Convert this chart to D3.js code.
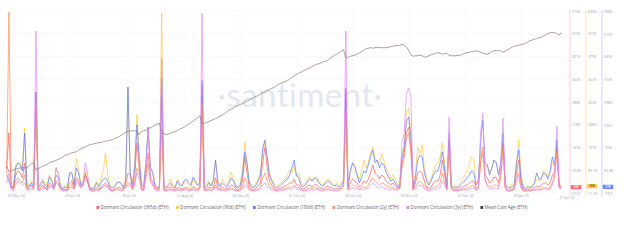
<!DOCTYPE html>
<html><head><meta charset="utf-8">
<script src="https://cdn.jsdelivr.net/npm/d3@7"></script>
<style>html,body{margin:0;padding:0;background:#fff;overflow:hidden}svg{display:block;font-family:'Open Sans',Lato,sans-serif}</style>
</head><body><svg id="c" width="624" height="243"></svg>
<script>
// ---- data (thousands of ETH; Mean Coin Age in days) ----
const startDate = "2024-05-25";
const dormant365 = [84,193,21,18,62,74,68,53,99,21, 24,31,21,321,15,21,31,24,18,37, 31,21,43,37,21,15,18,15,37,43, 21,53,43,24,31,68,43,18,15,15,
 24,18,24,31,37,31,18,15,18,21, 24,21,18,31,68,62,21,53,162,84, 21,18,68,130,53,43,24,18,21,305, 18,15,21,24,18,15,24,21,18,21,
 24,18,18,24,21,18,24,342,15,18, 24,21,24,53,24,18,24,21,18,24, 31,28,18,15,21,43,118,68,24,18, 15,21,28,37,99,149,84,43,31,21,
 15,18,21,24,28,31,37,37,49,31, 31,21,18,21,28,31,24,31,31,24, 21,18,24,28,24,21,18,21,18,24, 31,317,18,37,49,43,37,24,31,43,
 37,49,68,93,68,62,49,62,56,43, 37,31,37,28,21,21,99,130,193,211, 146,15,37,68,74,68,43,24,21,24, 37,43,43,62,109,62,18,171,21,15,
 18,15,21,24,28,31,37,43,43,21, 24,99,149,62,53,37,43,56,53,37, 68,162,24,15,15,18,21,68,109,37, 15,15,18,15,18,21,28,24,28,37,
 37,31,37,62,68,149,24,24];
const dormant90 = [80,63,32,38,107,114,114,97,234,45, 38,52,38,268,32,45,59,45,38,73, 59,38,100,80,38,28,38,32,73,80, 38,131,97,45,45,87,63,32,28,32,
 52,38,59,87,148,73,38,32,38,45, 52,45,32,59,371,80,45,114,279,148, 45,38,114,224,97,87,45,32,38,628, 38,32,45,59,38,32,59,45,38,45,
 52,38,32,59,45,38,52,217,32,38, 52,38,59,124,52,38,59,45,38,52, 83,59,38,32,45,87,186,114,52,38, 32,45,59,80,148,186,135,80,59,45,
 32,38,45,52,59,73,90,80,107,66, 80,45,38,45,59,66,52,59,66,52, 45,38,52,59,52,45,38,45,38,45, 59,217,38,80,114,107,80,56,87,124,
 97,114,148,169,131,114,114,148,121,97, 80,59,73,59,38,38,148,169,286,303, 217,28,80,169,148,176,97,59,45,59, 87,107,114,135,183,114,38,148,38,32,
 38,32,45,59,73,87,107,135,128,45, 59,148,166,97,111,80,97,124,114,80, 97,148,45,32,32,38,45,114,193,80, 32,28,38,32,38,45,59,52,66,87,
 83,66,80,117,97,148,45,35];
const dormant180 = [65,46,24,27,88,104,97,78,199,33, 27,40,27,330,24,33,46,33,27,59, 46,27,65,56,27,21,27,24,72,72, 33,88,72,33,33,65,46,24,21,24,
 40,27,40,52,56,46,27,24,27,40, 43,37,24,46,346,72,33,88,225,119, 33,27,104,218,88,72,33,24,27,375, 27,24,33,40,27,24,46,33,30,46,
 52,40,33,59,46,33,40,368,24,27, 40,30,46,113,40,27,40,33,27,40, 56,46,27,24,33,65,139,104,40,27, 24,33,46,65,151,177,123,65,46,33,
 24,27,33,40,46,52,65,88,113,65, 56,33,27,33,46,52,46,56,52,40, 33,30,40,46,40,33,30,33,27,33, 46,343,27,78,104,91,65,40,56,78,
 72,97,123,145,104,113,88,104,97,72, 59,46,52,40,27,27,119,155,237,250, 183,21,56,113,129,123,72,46,33,46, 65,78,78,104,139,88,27,199,27,24,
 27,24,33,40,46,56,65,78,72,33, 46,167,241,104,97,65,88,113,104,65, 104,199,33,24,24,27,33,104,145,56, 24,21,27,24,27,40,72,52,52,72,
 68,52,78,123,97,177,33,27];
const dormant2y = [74,638,32,22,46,57,46,39,67,18, 18,25,18,319,14,18,25,22,14,29, 25,18,39,32,18,11,14,14,25,32, 18,39,32,22,32,67,39,14,11,11,
 18,14,22,25,32,25,14,11,14,18, 18,14,14,25,39,39,18,39,92,74, 18,14,57,109,39,32,18,14,18,214, 14,11,14,18,14,11,18,14,14,18,
 18,14,14,18,14,14,18,319,14,14, 18,14,18,32,18,14,18,14,14,18, 22,18,14,11,14,25,57,39,18,14, 11,14,18,25,57,74,46,25,22,18,
 11,14,14,18,18,22,25,25,32,22, 22,14,14,14,18,22,18,22,22,18, 14,14,18,18,18,14,14,14,14,18, 25,284,14,25,32,29,25,18,22,25,
 22,32,46,57,46,39,32,39,36,29, 25,22,25,18,18,18,92,127,197,214, 144,14,25,39,46,39,25,18,14,18, 25,25,29,39,74,39,14,162,18,11,
 14,11,14,18,18,22,25,29,29,14, 18,109,144,46,32,25,25,32,32,25, 57,162,22,11,11,14,18,46,74,25, 11,11,14,11,14,14,18,18,18,22,
 22,18,25,39,57,144,22,18];
const dormant3y = [32,62,11,8,26,38,32,26,32,11, 11,14,11,488,8,11,14,17,11,17, 26,11,77,56,11,8,11,8,17,20, 11,38,32,17,38,92,62,11,8,8,
 11,8,14,20,26,17,11,8,11,11, 11,8,11,17,26,26,11,26,62,47, 11,8,77,200,47,26,11,8,11,407, 8,8,11,11,8,8,11,11,8,11,
 11,8,8,11,11,8,17,542,11,8, 11,8,11,20,11,8,11,8,8,11, 14,11,8,8,8,14,26,20,11,8, 8,11,11,14,26,32,20,14,11,11,
 8,8,11,11,11,14,14,14,20,14, 14,11,8,8,11,11,11,11,14,11, 8,8,11,11,11,8,8,8,8,14, 26,488,11,14,17,17,14,11,11,14,
 14,17,26,32,26,20,17,20,17,14, 14,11,14,11,11,32,152,182,302,317, 290,14,14,20,26,23,14,11,8,11, 14,14,14,20,38,26,11,230,17,8,
 8,8,11,11,11,11,14,17,17,11, 14,182,242,47,20,14,14,17,17,14, 92,227,20,8,8,8,17,56,47,17, 8,8,8,8,8,11,11,11,11,14,
 14,11,14,26,77,203,17,14];
const meanCoinAge = [254,242,244,246,247,249,250,250,250,250, 254,258,260,246,248,251,253,255,257,260, 262,263,265,267,269,272,275,276,278,280,
 281,282,285,288,290,292,294,296,297,298, 299,300,300,302,303,304,305,306,308,310, 312,315,318,321,322,323,324,324,323,316,
 322,324,325,328,330,332,335,337,339,320, 318,316,317,319,321,322,324,327,329,331, 334,337,340,343,346,350,353,338,339,340,
 342,344,346,348,350,353,355,358,361,365, 367,369,372,374,376,378,380,383,385,387, 390,392,394,397,399,402,404,406,408,410,
 413,416,418,420,422,423,427,430,433,436, 438,440,443,445,447,449,452,454,456,457, 459,461,462,464,468,471,474,476,479,482,
 485,469,470,472,473,474,476,479,481,484, 487,488,489,488,489,490,489,489,489,489, 490,491,492,493,493,494,496,494,490,484,
 475,472,473,473,474,473,470,471,473,475, 476,478,479,478,476,477,478,474,473,473, 473,474,474,476,478,479,480,481,481,483,
 482,480,478,477,476,478,481,483,483,483, 483,480,482,485,487,490,492,493,494,495, 496,498,500,503,504,506,507,509,510,512,
 515,517,519,519,519,517,514,519];

const seriesNames = ["Dormant Circulation (365d) (ETH)","Dormant Circulation (90d) (ETH)","Dormant Circulation (180d) (ETH)",
  "Dormant Circulation (2y) (ETH)","Dormant Circulation (3y) (ETH)","Mean Coin Age (ETH)"];
const dateTicks = ["2024-05-29","2024-06-23","2024-07-18","2024-08-12","2024-09-06","2024-10-01","2024-10-26","2024-11-20","2024-12-15","2025-01-09"];
const ticks365 = [5.723,76.6,147.5,218.4,289.4,360.3,431.2,502.1,573];
const labels365 = ["5723","76.6K","147K","218K","289K","360K","431K","502K","573K"];
const ticks90 = [11.1,89.1,167,245,323,401,479,557,635];
const labels90 = ["11.1K","89.1K","167K","245K","323K","401K","479K","557K","635K"];
const ticks180 = [7.763,80.3,153,225,298,370,443,515,588];
const labels180 = ["7763","80.3K","153K","225K","298K","370K","443K","515K","588K"];
const domain2y = [4, 641];
const domain3y = [2, 548];
const domainMCA = [200, 562];

// ---- layout ----
const svg = d3.select("#c");
const plotTop = 11, plotBottom = 193, xL = 6.7, xR = 561.4;
const parse = d3.utcParse("%Y-%m-%d");
const t0 = parse(startDate);
const dates = dormant365.map((_, i) => d3.utcDay.offset(t0, i));
const x = d3.scaleUtc().domain([dates[0], dates[dates.length - 1]]).range([xL, xR]);
const fmt = d3.utcFormat("%d %b %y");

const y365 = d3.scaleLinear().domain([ticks365[0], ticks365[8]]).range([plotBottom, plotTop]);
const y90 = d3.scaleLinear().domain([ticks90[0], ticks90[8]]).range([plotBottom, plotTop]);
const y180 = d3.scaleLinear().domain([ticks180[0], ticks180[8]]).range([plotBottom, plotTop]);
const y2y = d3.scaleLinear().domain(domain2y).range([plotBottom, plotTop]);
const y3y = d3.scaleLinear().domain(domain3y).range([plotBottom, plotTop]);
const yMCA = d3.scaleLinear().domain(domainMCA).range([plotBottom, plotTop]);

const colors = ["#ff5f5f", "#ffca45", "#5a7cff", "#ff8d5c", "#e58cf4", "#8f7a74"];

// grid
const g = svg.append("g");
g.selectAll(".hg").data(ticks365).join("line")
  .attr("x1", 4).attr("x2", 567).attr("y1", d => y365(d)).attr("y2", d => y365(d))
  .attr("stroke", "#e9ecf2").attr("stroke-width", 0.6).attr("stroke-dasharray", "2,2");
g.selectAll(".vg").data(dateTicks.map(parse)).join("line")
  .attr("x1", d => x(d)).attr("x2", d => x(d)).attr("y1", plotTop).attr("y2", plotBottom)
  .attr("stroke", "#eef0f5").attr("stroke-width", 0.6).attr("stroke-dasharray", "2,2");

// watermark
svg.append("text").attr("x", 300).attr("y", 107).attr("text-anchor", "middle")
  .attr("font-family", "Lato, 'Open Sans', sans-serif").attr("font-weight", 400)
  .attr("font-size", 33).attr("fill", "#e3e7f0").attr("letter-spacing", 0.4).text("·santiment·");

// lines
const series = [
  [dormant365, y365], [dormant90, y90], [dormant180, y180], [dormant2y, y2y], [dormant3y, y3y], [meanCoinAge, yMCA]
];
series.forEach(([vals, sc], i) => {
  const line = d3.line().x((d, j) => x(dates[j])).y(d => sc(d));
  svg.append("path").datum(vals).attr("d", line).attr("fill", "none")
    .attr("stroke", colors[i]).attr("stroke-width", 0.8)
    .attr("stroke-opacity", 0.9).attr("stroke-linejoin", "round");
});

// x axis
const xa = svg.append("g").attr("transform", `translate(0,${plotBottom})`)
  .call(d3.axisBottom(x).tickValues(dateTicks.map(parse)).tickFormat(fmt).tickSize(0).tickPadding(1.6));
xa.select(".domain").remove();
xa.selectAll("text").attr("font-size", 3.6).attr("fill", "#9aa3b8").attr("font-family", "'Open Sans',sans-serif");
svg.append("text").attr("x", 567).attr("y", 199).attr("text-anchor", "middle")
  .attr("font-size", 3.6).attr("fill", "#9aa3b8").text(fmt(dates[dates.length - 1]));

// right axes
const axes = [
  [y365, ticks365, labels365, 570, "#ffcaca", dormant365, "#ff6b6b", "#fff"],
  [y90, ticks90, labels90, 586, "#ffe7a6", dormant90, "#ffcd4a", "#5a4500"],
  [y180, ticks180, labels180, 602, "#c6cffc", dormant180, "#6686ff", "#fff"]
];
axes.forEach(([sc, tv, lb, ax, lc, vals, bc, tc]) => {
  svg.append("line").attr("x1", ax).attr("x2", ax).attr("y1", 10).attr("y2", 197)
    .attr("stroke", lc).attr("stroke-width", 0.9);
  const a = svg.append("g").attr("transform", `translate(${ax},0)`)
    .call(d3.axisRight(sc).tickValues(tv).tickFormat((d, i) => lb[i]).tickSize(0).tickPadding(2));
  a.select(".domain").remove();
  a.selectAll("text").attr("font-size", 3.6).attr("fill", "#9aa3b8").attr("font-family", "'Open Sans',sans-serif");
  const last = vals[vals.length - 1];
  const yy = sc(last);
  svg.append("rect").attr("x", ax + 0.8).attr("y", yy - 2.1).attr("width", 10.5).attr("height", 4.2)
    .attr("rx", 0.6).attr("fill", bc);
  svg.append("text").attr("x", ax + 6).attr("y", yy + 1.15).attr("text-anchor", "middle")
    .attr("font-size", 3.2).attr("fill", tc).attr("font-weight", 600).text(d3.format(".3~s")(last * 1000).replace("k", "K"));
});

// legend
const lg = svg.append("g");
const items = lg.selectAll("g").data(seriesNames).join("g");
items.append("rect").attr("width", 2.8).attr("height", 2.8).attr("y", -2.4).attr("rx", 0.4).attr("fill", (d, i) => i === 5 ? "#4e3d38" : colors[i]);
const texts = items.append("text").attr("x", 4.2).attr("y", 0.35).attr("font-size", 10).attr("fill", "#5d6270").text(d => d);
const gap = 7.5;
let widths = texts.nodes().map(n => n.getComputedTextLength());
const target = 432 - seriesNames.length * 4.2 - (seriesNames.length - 1) * gap;
const fs = 10 * target / d3.sum(widths);
texts.attr("font-size", fs);
widths = texts.nodes().map(n => n.getComputedTextLength());
let cx = 96.5;
items.each(function (d, i) {
  d3.select(this).attr("transform", `translate(${cx},208.5)`);
  cx += 4.2 + widths[i] + gap;
});
</script></body></html>
